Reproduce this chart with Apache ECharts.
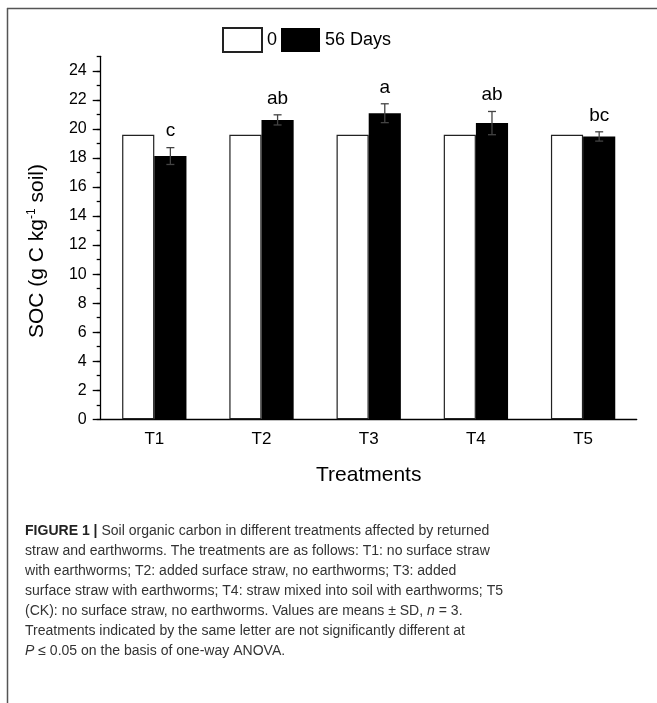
<!DOCTYPE html>
<html>
<head>
<meta charset="utf-8">
<script src="https://cdn.jsdelivr.net/npm/echarts@6/dist/echarts.min.js"></script>
<style>
  html, body { margin: 0; padding: 0; background: #fff; }
  #chart { width: 657px; height: 703px; }
</style>
</head>
<body>
<div id="chart"></div>
<script>
// Soil organic carbon (g C kg-1 soil) per treatment, at day 0 and day 56
const categories = ['T1', 'T2', 'T3', 'T4', 'T5'];
const day0 = [19.6, 19.6, 19.6, 19.6, 19.6];
const day56 = [18.13, 20.62, 21.08, 20.40, 19.48];
const day56Sd = [0.58, 0.35, 0.65, 0.80, 0.32];
const letters = ['c', 'ab', 'a', 'ab', 'bc'];
const yMajorTicks = [0, 2, 4, 6, 8, 10, 12, 14, 16, 18, 20, 22, 24];

const captionLines = [
  '{b|FIGURE 1 |} Soil organic carbon in different treatments affected by returned',
  'straw and earthworms. The treatments are as follows: T1: no surface straw',
  'with earthworms; T2: added surface straw, no earthworms; T3: added',
  'surface straw with earthworms; T4: straw mixed into soil with earthworms; T5',
  '(CK): no surface straw, no earthworms. Values are means \u00b1 SD, {i|n} = 3.',
  'Treatments indicated by the same letter are not significantly different at',
  '{i|P} \u2264 0.05 on the basis of one-way ANOVA.'
];

const FONT = 'Liberation Sans, Arial, sans-serif';
const chart = echarts.init(document.getElementById('chart'), null, { renderer: 'canvas' });

// one horizontal squeeze for the whole caption block
const ctx = document.createElement('canvas').getContext('2d');
ctx.font = '14px "Liberation Sans"';
const widest = ctx.measureText('surface straw with earthworms; T4: straw mixed into soil with earthworms; T5').width;
const captionScale = 478 / widest;

const captionGraphics = captionLines.map((line, i) => ({
  type: 'text',
  x: 25,
  y: 531 + i * 20,
  scaleX: captionScale,
  style: {
    text: line,
    font: '14px ' + FONT,
    fill: '#333',
    verticalAlign: 'middle',
    align: 'left',
    rich: {
      b: { fontWeight: 'bold', fontSize: 14, fontFamily: FONT, fill: '#222' },
      i: { fontStyle: 'italic', fontSize: 14, fontFamily: FONT, fill: '#333' }
    }
  }
}));

const option = {
  animation: false,
  backgroundColor: '#fff',
  textStyle: { fontFamily: FONT, color: '#000' },
  grid: { left: 100.7, top: 56.3, right: 20.3, bottom: 283.7, containLabel: false },
  legend: {
    left: 222,
    top: 27,
    padding: 0,
    itemWidth: 39,
    itemHeight: 24,
    itemGap: 4,
    icon: 'rect',
    textStyle: { fontSize: 18, color: '#000', fontFamily: FONT },
    data: ['0', '56 Days']
  },
  xAxis: [
    {
      type: 'category',
      data: categories,
      position: 'bottom',
      axisLine: { lineStyle: { color: '#000', width: 1.3 } },
      axisTick: { alignWithLabel: true, length: 6, lineStyle: { color: '#000', width: 1.3 } },
      axisLabel: { fontSize: 17, color: '#000', margin: 12 }
    },
    {
      type: 'category',
      data: categories,
      position: 'bottom',
      axisLine: { show: false },
      axisTick: { length: 6, lineStyle: { color: '#000', width: 1.3 } },
      axisLabel: { show: false }
    }
  ],
  yAxis: [
    {
      type: 'value',
      min: 0,
      max: 25,
      interval: 2,
      position: 'left',
      splitLine: { show: false },
      axisLine: { show: true, lineStyle: { color: '#000', width: 1.3 } },
      axisTick: { show: true, length: 8, customValues: yMajorTicks, lineStyle: { color: '#000', width: 1.3 } },
      axisLabel: { fontSize: 16, color: '#000', margin: 14, customValues: yMajorTicks }
    },
    {
      type: 'value',
      min: 0,
      max: 25,
      interval: 1,
      position: 'left',
      splitLine: { show: false },
      axisLine: { show: false },
      axisTick: { show: true, length: 4, lineStyle: { color: '#000', width: 1.3 } },
      axisLabel: { show: false }
    }
  ],
  graphic: [
    // figure frame (top and left edges)
    { type: 'line', shape: { x1: 7, y1: 8.5, x2: 657, y2: 8.5 }, style: { stroke: '#555', lineWidth: 1.5 } },
    { type: 'line', shape: { x1: 7.5, y1: 8, x2: 7.5, y2: 703 }, style: { stroke: '#555', lineWidth: 1.5 } },
    {
      type: 'text',
      x: 37,
      y: 251,
      rotation: Math.PI / 2,
      style: {
        text: 'SOC (g C kg{sup|-1} soil)',
        font: '21px ' + FONT,
        fill: '#000',
        align: 'center',
        verticalAlign: 'middle',
        rich: {
          sup: { fontSize: 12, fontFamily: FONT, fill: '#000', verticalAlign: 'top', padding: [0, 0, 11, 0] }
        }
      }
    },
    {
      type: 'text',
      x: 368.7,
      y: 475,
      style: { text: 'Treatments', font: '21px ' + FONT, fill: '#000', align: 'center', verticalAlign: 'middle' }
    }
  ].concat(captionGraphics),
  series: [
    {
      name: '0',
      type: 'bar',
      data: day0,
      barWidth: '30%',
      barGap: '0%',
      itemStyle: { color: '#fff', borderColor: '#222', borderWidth: 1.2 }
    },
    {
      name: '56 Days',
      type: 'bar',
      data: day56,
      barWidth: '30%',
      barGap: '0%',
      itemStyle: { color: '#000' }
    },
    {
      // SD whiskers and significance letters for the day-56 bars
      type: 'custom',
      z: 5,
      data: categories.map((c, i) => [i, day56[i], day56Sd[i]]),
      renderItem: function (params, api) {
        const i = api.value(0);
        const v = api.value(1);
        const sd = api.value(2);
        const band = api.size([1, 0])[0];
        const cx = api.coord([i, v])[0] + band * 0.15;
        const yTop = api.coord([i, v + sd])[1];
        const yBot = api.coord([i, v - sd])[1];
        const cap = 4;
        const stroke = { stroke: '#444', lineWidth: 1.3 };
        return {
          type: 'group',
          children: [
            { type: 'line', shape: { x1: cx, y1: yTop, x2: cx, y2: yBot }, style: stroke },
            { type: 'line', shape: { x1: cx - cap, y1: yTop, x2: cx + cap, y2: yTop }, style: stroke },
            { type: 'line', shape: { x1: cx - cap, y1: yBot, x2: cx + cap, y2: yBot }, style: stroke },
            {
              type: 'text',
              x: cx,
              y: yTop - 7,
              style: {
                text: letters[params.dataIndex],
                font: '19px ' + FONT,
                fill: '#000',
                align: 'center',
                verticalAlign: 'bottom'
              }
            }
          ]
        };
      }
    }
  ]
};

chart.setOption(option);
</script>
</body>
</html>
